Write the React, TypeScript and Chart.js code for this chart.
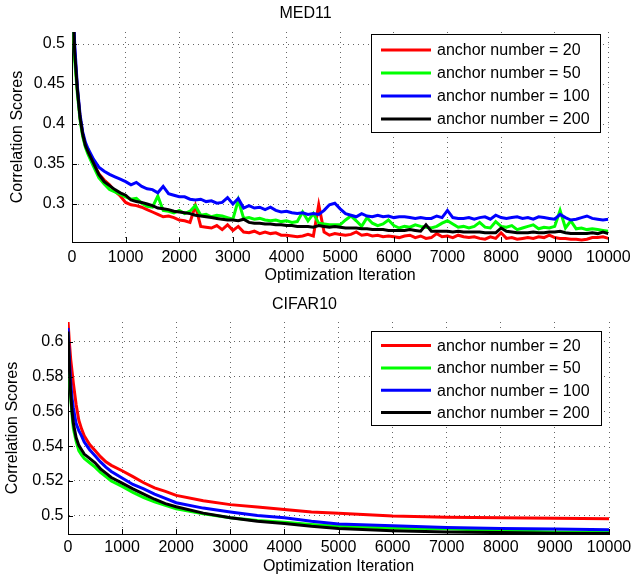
import React, { useEffect, useRef } from "react";
import { Chart, registerables } from "chart.js";

Chart.register(...registerables);

const FONT = "'Liberation Sans', Arial, Helvetica, sans-serif";

const SERIES_LABELS = [
  "anchor number = 20",
  "anchor number = 50",
  "anchor number = 100",
  "anchor number = 200",
];
const SERIES_COLORS = ["#ff0000", "#00ff00", "#0000ff", "#000000"];

const X_TICKS = [0, 1000, 2000, 3000, 4000, 5000, 6000, 7000, 8000, 9000, 10000];
const MED_Y_TICKS = [0.3, 0.35, 0.4, 0.45, 0.5];
const CIFAR_Y_TICKS = [0.5, 0.52, 0.54, 0.56, 0.58, 0.6];

// ---------------- MED11 ----------------
const MED_ITER = [
  0, 50, 100, 150, 200, 250, 300,
  400, 500, 600, 700, 800, 900, 1000, 1100, 1200, 1300,
  1400, 1500, 1600, 1700, 1800, 1900, 2000, 2100, 2200, 2300,
  2400, 2500, 2600, 2700, 2800, 2900, 3000, 3100, 3200, 3300,
  3400, 3500, 3600, 3700, 3800, 3900, 4000, 4100, 4200, 4300,
  4400, 4500, 4600, 4700, 4800, 4900, 5000, 5100, 5200, 5300,
  5400, 5500, 5600, 5700, 5800, 5900, 6000, 6100, 6200, 6300,
  6400, 6500, 6600, 6700, 6800, 6900, 7000, 7100, 7200, 7300,
  7400, 7500, 7600, 7700, 7800, 7900, 8000, 8100, 8200, 8300,
  8400, 8500, 8600, 8700, 8800, 8900, 9000, 9100, 9200, 9300,
  9400, 9500, 9600, 9700, 9800, 9900, 10000,
];

const MED_A20 = [
  0.58, 0.49, 0.443, 0.408, 0.387, 0.373, 0.364,
  0.350, 0.338, 0.330, 0.324, 0.316, 0.310, 0.302, 0.299, 0.298, 0.296,
  0.293, 0.290, 0.287, 0.284, 0.285, 0.283, 0.280, 0.279, 0.277, 0.298,
  0.272, 0.271, 0.270, 0.273, 0.268, 0.274, 0.267, 0.272, 0.265, 0.264,
  0.266, 0.263, 0.265, 0.263, 0.264, 0.261, 0.261, 0.260, 0.259, 0.260,
  0.262, 0.260, 0.299, 0.265, 0.261, 0.263, 0.262, 0.261, 0.262, 0.265,
  0.261, 0.262, 0.260, 0.261, 0.259, 0.260, 0.259, 0.258, 0.260, 0.261,
  0.258, 0.260, 0.257, 0.258, 0.263, 0.259, 0.260, 0.258, 0.261, 0.259,
  0.258, 0.259, 0.257, 0.256, 0.259, 0.257, 0.264, 0.257, 0.258, 0.256,
  0.257, 0.258, 0.257, 0.259, 0.258, 0.261, 0.258, 0.257, 0.257, 0.256,
  0.256, 0.255, 0.256, 0.258, 0.258, 0.259, 0.257,
];

const MED_A50 = [
  0.57, 0.48, 0.438, 0.405, 0.384, 0.371, 0.362,
  0.347, 0.333, 0.325, 0.318, 0.315, 0.312, 0.309, 0.306, 0.307, 0.301,
  0.297, 0.296, 0.310, 0.292, 0.291, 0.289, 0.292, 0.288, 0.291, 0.298,
  0.286, 0.287, 0.284, 0.286, 0.285, 0.283, 0.281, 0.305, 0.282, 0.283,
  0.281, 0.282, 0.280, 0.279, 0.280, 0.278, 0.279, 0.277, 0.278, 0.290,
  0.279, 0.288, 0.276, 0.275, 0.274, 0.274, 0.274, 0.280, 0.285, 0.279,
  0.272, 0.283, 0.276, 0.273, 0.275, 0.280, 0.273, 0.270, 0.272, 0.271,
  0.274, 0.272, 0.271, 0.270, 0.272, 0.276, 0.279, 0.275, 0.271, 0.272,
  0.270, 0.272, 0.277, 0.271, 0.270, 0.278, 0.272, 0.271, 0.273, 0.268,
  0.270, 0.272, 0.274, 0.269, 0.271, 0.270, 0.272, 0.292, 0.270, 0.279,
  0.269, 0.270, 0.268, 0.269, 0.268, 0.267, 0.266,
];

const MED_A100 = [
  0.59, 0.50, 0.447, 0.412, 0.390, 0.377, 0.369,
  0.356, 0.346, 0.341, 0.337, 0.334, 0.331, 0.328, 0.324, 0.327, 0.322,
  0.319, 0.318, 0.314, 0.322, 0.313, 0.311, 0.309, 0.309, 0.306, 0.305,
  0.306, 0.303, 0.304, 0.301, 0.302, 0.308, 0.300, 0.307, 0.295, 0.298,
  0.295, 0.296, 0.293, 0.296, 0.292, 0.290, 0.291, 0.289, 0.288, 0.289,
  0.287, 0.288, 0.287, 0.292, 0.299, 0.301, 0.294, 0.288, 0.286, 0.284,
  0.288, 0.285, 0.284, 0.286, 0.284, 0.285, 0.283, 0.284, 0.284, 0.283,
  0.282, 0.283, 0.282, 0.282, 0.285, 0.283, 0.292, 0.283, 0.282, 0.282,
  0.283, 0.281, 0.283, 0.284, 0.281, 0.286, 0.283, 0.282, 0.283, 0.284,
  0.282, 0.283, 0.281, 0.284, 0.283, 0.282, 0.281, 0.287, 0.283, 0.280,
  0.281, 0.283, 0.285, 0.282, 0.281, 0.280, 0.281,
];

const MED_A200 = [
  0.58, 0.49, 0.443, 0.408, 0.387, 0.373, 0.365,
  0.351, 0.337, 0.328, 0.323, 0.318, 0.314, 0.311, 0.305, 0.303, 0.302,
  0.300, 0.298, 0.295, 0.294, 0.293, 0.291, 0.290, 0.289, 0.288, 0.286,
  0.285, 0.284, 0.283, 0.282, 0.281, 0.280, 0.280, 0.279, 0.281, 0.277,
  0.276, 0.276, 0.275, 0.275, 0.274, 0.274, 0.273, 0.273, 0.272, 0.272,
  0.272, 0.271, 0.273, 0.272, 0.271, 0.272, 0.271, 0.270, 0.270, 0.270,
  0.269, 0.269, 0.268, 0.268, 0.268, 0.267, 0.267, 0.267, 0.267, 0.268,
  0.267, 0.266, 0.274, 0.266, 0.266, 0.266, 0.266, 0.265, 0.266, 0.265,
  0.265, 0.265, 0.265, 0.264, 0.264, 0.264, 0.270, 0.266, 0.265, 0.264,
  0.264, 0.264, 0.265, 0.264, 0.264, 0.265, 0.265, 0.266, 0.264, 0.263,
  0.263, 0.263, 0.263, 0.264, 0.263, 0.265, 0.263,
];

// ---------------- CIFAR10 ----------------
const CIFAR_ITER = [
  0, 25, 50, 75, 100, 150, 200, 250, 300, 400, 500, 600, 700, 800,
  1000, 1200, 1400, 1600, 1800, 2000, 2500, 3000, 3500, 4000, 4500,
  5000, 6000, 7000, 8000, 9000, 10000,
];

const CIFAR_A20 = [
  0.612, 0.600, 0.590, 0.583, 0.576, 0.564, 0.555, 0.550, 0.546, 0.541, 0.5375, 0.534, 0.531, 0.529,
  0.5259, 0.5225, 0.519, 0.516, 0.514, 0.5117, 0.5086, 0.5064, 0.505, 0.5036, 0.5022,
  0.5015, 0.4999, 0.4991, 0.4988, 0.4985, 0.4983,
];
const CIFAR_A50 = [
  0.605, 0.583, 0.568, 0.558, 0.550, 0.543, 0.5375, 0.535, 0.533, 0.5305, 0.528, 0.525, 0.5225, 0.520,
  0.5169, 0.5135, 0.5105, 0.508, 0.506, 0.504, 0.5012, 0.4988, 0.4973, 0.4962, 0.495,
  0.4939, 0.493, 0.4925, 0.4914, 0.4907, 0.4904,
];
const CIFAR_A100 = [
  0.608, 0.590, 0.577, 0.5677, 0.562, 0.553, 0.549, 0.546, 0.5425, 0.538, 0.5345, 0.531, 0.528, 0.5255,
  0.5217, 0.518, 0.5155, 0.5125, 0.510, 0.5075, 0.5044, 0.5022, 0.5002, 0.4988, 0.4968,
  0.4953, 0.4942, 0.4932, 0.4927, 0.4924, 0.4919,
];
const CIFAR_A200 = [
  0.606, 0.585, 0.570, 0.560, 0.553, 0.545, 0.5405, 0.538, 0.5355, 0.533, 0.5305, 0.527, 0.5245, 0.522,
  0.5188, 0.5155, 0.5125, 0.5095, 0.507, 0.5052, 0.5015, 0.4988, 0.4968, 0.4955, 0.4939,
  0.4927, 0.4914, 0.4907, 0.4903, 0.49, 0.4898,
];

const decorPlugin = {
  id: "decor",
  afterDraw(chart: any, _args: any, opts: any) {
    const { ctx, chartArea: ca, scales } = chart;
    ctx.save();
    // inward tick marks (MATLAB style)
    ctx.strokeStyle = "#000";
    ctx.lineWidth = 1;
    ctx.setLineDash([]);
    ctx.beginPath();
    for (const t of scales.x.ticks) {
      const x = Math.round(scales.x.getPixelForValue(t.value)) + 0.5;
      ctx.moveTo(x, ca.bottom);
      ctx.lineTo(x, ca.bottom - 5);
    }
    for (const t of scales.y.ticks) {
      const y = Math.round(scales.y.getPixelForValue(t.value)) + 0.5;
      ctx.moveTo(ca.left, y);
      ctx.lineTo(ca.left + 5, y);
    }
    ctx.stroke();

    // legend box
    const bx = Math.round(ca.right - opts.right - opts.width);
    const by = Math.round(ca.top + opts.top);
    ctx.fillStyle = "#ffffff";
    ctx.fillRect(bx, by, opts.width, opts.height);
    ctx.strokeStyle = "#000";
    ctx.lineWidth = 1;
    ctx.strokeRect(bx + 0.5, by + 0.5, opts.width, opts.height);
    ctx.font = `16px ${FONT}`;
    ctx.textBaseline = "middle";
    ctx.textAlign = "left";
    chart.data.datasets.forEach((ds: any, i: number) => {
      const y = by + opts.firstRow + i * opts.rowGap;
      ctx.strokeStyle = ds.borderColor;
      ctx.lineWidth = 3;
      ctx.beginPath();
      ctx.moveTo(bx + opts.lineX0, y);
      ctx.lineTo(bx + opts.lineX1, y);
      ctx.stroke();
      ctx.fillStyle = "#000";
      ctx.fillText(ds.label, bx + opts.textX, y + 1);
    });
    ctx.restore();
  },
};

type Panel = {
  title: string;
  iters: number[];
  series: number[][];
  yMin: number;
  yMax: number;
  yTicks: number[];
  height: number;
  padRight: number;
  yWidth: number;
  xHeight: number;
  titleTop: number;
  titleBottom: number;
  xTickPad: number;
  yTickPad: number;
  xTitleBottom: number;
  yTitleTop: number;
  legend: any;
};

function makeConfig(p: Panel): any {
  const font = { family: FONT, size: 16, weight: "normal", lineHeight: 1.2 };
  return {
    type: "line",
    data: {
      datasets: SERIES_LABELS.map((label, i) => ({
        label,
        data: p.iters.map((x, j) => ({ x, y: p.series[i][j] })),
        borderColor: SERIES_COLORS[i],
        backgroundColor: SERIES_COLORS[i],
        borderWidth: 3,
        pointRadius: 0,
        tension: 0,
        fill: false,
        order: 3 - i,
        clip: 0,
      })),
    },
    options: {
      animation: false,
      responsive: false,
      maintainAspectRatio: false,
      events: [],
      layout: { padding: { left: 0, right: p.padRight, top: 0, bottom: 0 } },
      plugins: {
        legend: { display: false },
        tooltip: { enabled: false },
        title: {
          display: true,
          text: p.title,
          color: "#000",
          font,
          padding: { top: p.titleTop, bottom: p.titleBottom },
        },
        decor: p.legend,
      },
      scales: {
        x: {
          type: "linear",
          min: 0,
          max: 10000,
          afterBuildTicks: (s: any) => {
            s.ticks = X_TICKS.map((v) => ({ value: v }));
          },
          afterFit: (s: any) => {
            s.height = p.xHeight;
          },
          ticks: {
            font,
            color: "#000",
            padding: p.xTickPad,
            maxRotation: 0,
            autoSkip: false,
            callback: (v: any) => String(v),
          },
          grid: { color: "rgba(0,0,0,0.6)", lineWidth: 1, drawTicks: false },
          border: { display: true, color: "#000", width: 1, dash: [1, 4] },
          title: {
            display: true,
            text: "Optimization Iteration",
            color: "#000",
            font,
            padding: { top: 0, bottom: p.xTitleBottom },
          },
        },
        y: {
          type: "linear",
          min: p.yMin,
          max: p.yMax,
          afterBuildTicks: (s: any) => {
            s.ticks = p.yTicks.map((v) => ({ value: v }));
          },
          afterFit: (s: any) => {
            s.width = p.yWidth;
          },
          ticks: {
            font,
            color: "#000",
            padding: p.yTickPad,
            autoSkip: false,
            callback: (v: any) => String(v),
          },
          grid: { color: "rgba(0,0,0,0.6)", lineWidth: 1, drawTicks: false },
          border: { display: true, color: "#000", width: 1, dash: [1, 4] },
          title: {
            display: true,
            text: "Correlation Scores",
            color: "#000",
            font,
            padding: { top: p.yTitleTop, bottom: 0 },
          },
        },
      },
    },
    plugins: [decorPlugin],
  };
}

const PANELS: Panel[] = [
  {
    title: "MED11",
    iters: MED_ITER,
    series: [MED_A20, MED_A50, MED_A100, MED_A200],
    yMin: 0.2525,
    yMax: 0.515,
    yTicks: MED_Y_TICKS,
    height: 288,
    padRight: 26,
    yWidth: 72,
    xHeight: 46,
    titleTop: 4.4,
    titleBottom: 8.4,
    xTickPad: 6.4,
    yTickPad: 7,
    xTitleBottom: 2.4,
    yTitleTop: 8,
    legend: { right: 8, top: 2, width: 229, height: 98, firstRow: 16, rowGap: 23, lineX0: 10, lineX1: 60, textX: 66 },
  },
  {
    title: "CIFAR10",
    iters: CIFAR_ITER,
    series: [CIFAR_A20, CIFAR_A50, CIFAR_A100, CIFAR_A200],
    yMin: 0.4895,
    yMax: 0.6115,
    yTicks: CIFAR_Y_TICKS,
    height: 289,
    padRight: 28,
    yWidth: 68,
    xHeight: 43,
    titleTop: 7.4,
    titleBottom: 7.4,
    xTickPad: 4.4,
    yTickPad: 4.5,
    xTitleBottom: 0.4,
    yTitleTop: 3.4,
    legend: { right: 8, top: 9, width: 230, height: 94, firstRow: 14.6, rowGap: 22.3, lineX0: 10, lineX1: 60, textX: 66 },
  },
];

function Panel({ panel }: { panel: Panel }) {
  const ref = useRef<HTMLCanvasElement | null>(null);
  useEffect(() => {
    if (!ref.current) return;
    const chart = new Chart(ref.current, makeConfig(panel));
    return () => chart.destroy();
  }, [panel]);
  return (
    <canvas
      ref={ref}
      width={637}
      height={panel.height}
      style={{ display: "block", width: 637, height: panel.height }}
    />
  );
}

export default function App() {
  return (
    <div
      style={{
        position: "absolute",
        left: 0,
        top: 0,
        width: 637,
        height: 577,
        background: "#ffffff",
      }}
    >
      {PANELS.map((p) => (
        <Panel key={p.title} panel={p} />
      ))}
    </div>
  );
}
